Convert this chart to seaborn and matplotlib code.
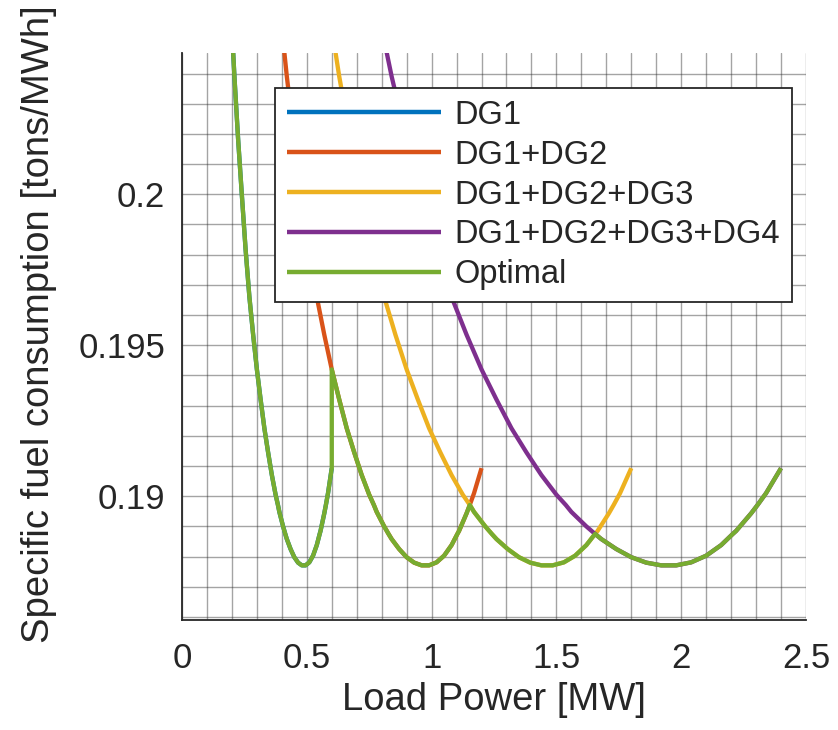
import numpy as np
import pandas as pd
import matplotlib
matplotlib.use("Agg")
import matplotlib.pyplot as plt
from matplotlib.ticker import MultipleLocator, FixedLocator
import seaborn as sns

# Specific fuel consumption of one generator versus its loading (fraction of rating)
load_fraction = [0.3333, 0.35, 0.375, 0.40, 0.425, 0.45, 0.475, 0.50, 0.525, 0.55,
                 0.575, 0.60, 0.625, 0.6406, 0.65, 0.675, 0.6896, 0.70, 0.725, 0.75,
                 0.775, 0.80, 0.825, 0.85, 0.875, 0.90, 0.9194, 0.925, 0.95, 0.9608,
                 0.975, 1.0]
sfc_per_unit = [0.2055, 0.2039, 0.2018, 0.19995, 0.19815, 0.1966, 0.19535, 0.1942, 0.1932, 0.19225,
                0.19145, 0.1907, 0.19005, 0.18971, 0.18948, 0.1890, 0.18875, 0.18858, 0.18825, 0.18798,
                0.1878, 0.18771, 0.18771, 0.18781, 0.18803, 0.18838, 0.18875, 0.18885, 0.18943, 0.18971,
                0.1901, 0.19093]

# Generator combinations and their ratings
unit_rating_mw = 0.6
units_online = [1, 2, 3, 4]
series_labels = ["DG1", "DG1+DG2", "DG1+DG2+DG3", "DG1+DG2+DG3+DG4", "Optimal"]
series_colors = ["#0072BD", "#D95319", "#EDB120", "#7E2F8E", "#77AC30"]

# Loads [MW] at which the optimal dispatch switches to one more generator
switch_load = [0.6, 1.153, 1.655]

# Axis ticks
xtick_values = [0, 0.5, 1, 1.5, 2, 2.5]
xtick_labels = ["0", "0.5", "1", "1.5", "2", "2.5"]
ytick_values = [0.19, 0.195, 0.2]
ytick_labels = ["0.19", "0.195", "0.2"]

frac = np.array(load_fraction)
sfc = np.array(sfc_per_unit)

frames = []
opt_parts = []
bounds = [0.0] + switch_load + [10.0]
tol = 0.003
for k, n in enumerate(units_online):
    load = frac * n * unit_rating_mw
    frames.append(pd.DataFrame({"load": load, "sfc": sfc, "series": series_labels[k]}))
    lo, hi = bounds[k], bounds[k + 1]
    mask = (load >= lo - tol) & (load <= hi + tol)
    opt_parts.append(pd.DataFrame({"load": load[mask], "sfc": sfc[mask], "series": "Optimal"}))
frames.append(pd.concat(opt_parts, ignore_index=True))
df = pd.concat(frames, ignore_index=True)

sns.set_style("white")
plt.rcParams["font.family"] = ["Liberation Sans", "DejaVu Sans"]

fig = plt.figure(figsize=(8.38, 7.30), dpi=100)
ax = fig.add_axes([182 / 838, 1 - 620 / 730, 624 / 838, 567 / 730])

sns.lineplot(data=df, x="load", y="sfc", hue="series", hue_order=series_labels,
             palette=series_colors, sort=False, estimator=None, linewidth=3.1,
             ax=ax, legend=True)
for line in ax.get_lines():
    line.set_solid_joinstyle("round")
    line.set_solid_capstyle("butt")

ax.set_xlim(0, 2.5)
ax.set_ylim(0.1859, 0.20468)

ax.xaxis.set_major_locator(FixedLocator(xtick_values))
ax.set_xticklabels(xtick_labels)
ax.yaxis.set_major_locator(FixedLocator(ytick_values))
ax.set_yticklabels(ytick_labels)
ax.xaxis.set_minor_locator(MultipleLocator(0.1))
ax.yaxis.set_minor_locator(MultipleLocator(0.001))

ax.grid(True, which="both", color="#262626", alpha=0.42, linewidth=1.0)
ax.set_axisbelow(True)

for side in ["top", "right"]:
    ax.spines[side].set_visible(False)
for side in ["left", "bottom"]:
    ax.spines[side].set_color("#262626")
    ax.spines[side].set_linewidth(1.3)

ax.tick_params(which="major", direction="in", length=5, width=1.2, color="#262626",
               labelsize=25, labelcolor="#262626")
ax.tick_params(axis="x", which="major", pad=16)
ax.tick_params(axis="y", which="major", pad=12)
ax.tick_params(which="minor", length=0)

ax.set_xlabel("Load Power [MW]", fontsize=27.5, color="#262626", labelpad=5)
ax.set_ylabel("Specific fuel consumption [tons/MWh]", fontsize=27.5, color="#262626")
ax.yaxis.set_label_coords(-0.2, 0.522)

handles, labels = ax.get_legend_handles_labels()
leg = ax.legend(handles, labels, loc="upper right", bbox_to_anchor=(0.9776, 0.938),
                borderaxespad=0, frameon=True, fancybox=False, framealpha=1,
                edgecolor="#262626", fontsize=23.5, handlelength=4.72, handletextpad=0.43,
                labelspacing=0.27, borderpad=0.36)
leg.get_frame().set_linewidth(1.3)
for line in leg.get_lines():
    line.set_linewidth(3.2)

fig.savefig("out.png", dpi=100)
